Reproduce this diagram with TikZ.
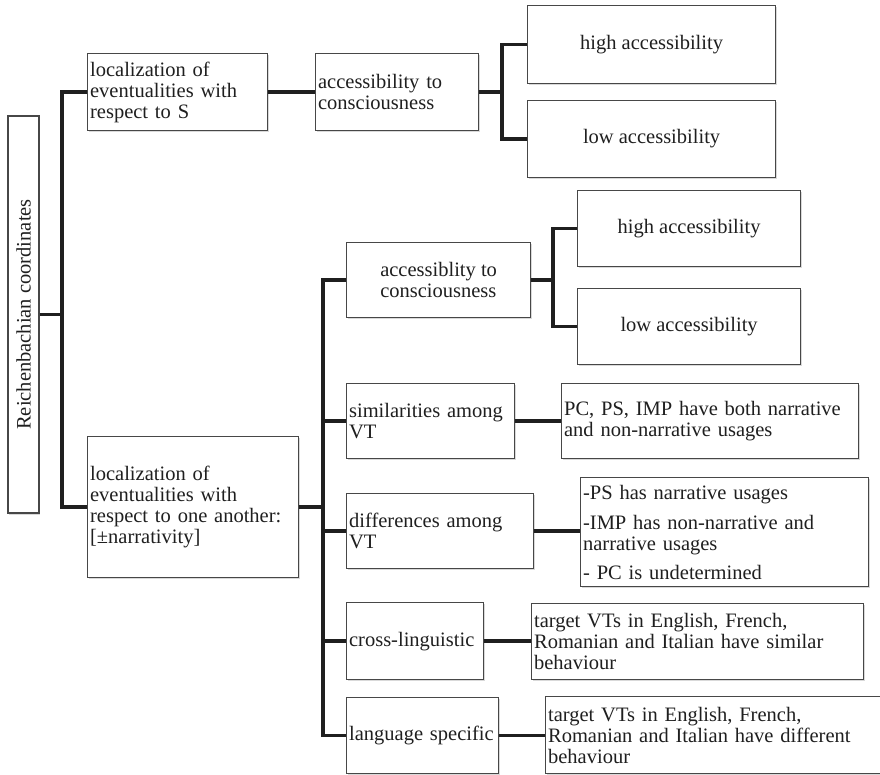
\documentclass[tikz,border=0pt]{standalone}
\usepackage{fontspec}
\setmainfont{Liberation Serif}
\usetikzlibrary{shadows}

\begin{document}
\begin{tikzpicture}[
    x=1pt, y=-1pt,
    box/.style={rectangle, draw=black!72, line width=1.2pt, fill=white, anchor=north west, inner xsep=2.5pt, inner ysep=0pt, text=black!88, font=\fontsize{20.5}{21}\selectfont, drop shadow={shadow xshift=1.2pt, shadow yshift=-1.6pt, opacity=0.3}},
    lbox/.style={box, align=left},
    cbox/.style={box, align=center},
    link/.style={line width=3.3pt, black!88}
]
    \useasboundingbox (0,0) rectangle (880,775);
    \clip (0,0) rectangle (880,775);

    \node[cbox, anchor=center, rotate=90, minimum width=397pt, minimum height=31pt] (root) at (23.5,314.5) {Reichenbachian coordinates};

    \node[lbox, minimum width=180pt, minimum height=77pt, text width=175pt] (locS) at (87,53) {localization of\\ eventualities with\\ respect to S};
    \node[lbox, minimum width=163pt, minimum height=77pt, text width=158pt] (accS) at (315,53) {accessibility to\\ consciousness};
    \node[cbox, minimum width=248pt, minimum height=78pt] (highS) at (527,5) {high accessibility};
    \node[cbox, minimum width=248pt, minimum height=77pt] (lowS) at (527,100) {low accessibility};

    \node[lbox, minimum width=211pt, minimum height=141pt, text width=206pt] (locO) at (87,436) {localization of\\ eventualities with\\ respect to one another:\\ {[±narrativity]}};
    \node[lbox, minimum width=184pt, minimum height=75pt] (accO) at (346,242) {accessiblity to\\ consciousness};
    \node[cbox, minimum width=223pt, minimum height=76pt] (highO) at (577,190) {high accessibility};
    \node[cbox, minimum width=223pt, minimum height=76pt] (lowO) at (577,288) {low accessibility};

    \node[lbox, minimum width=168pt, minimum height=75pt, text width=163pt] (sim) at (346,383) {similarities among\\ VT};
    \node[lbox, minimum width=297pt, minimum height=75pt, text width=292pt] (simtxt) at (561,383) {PC, PS, IMP have both narrative\\ and non-narrative usages};
    \node[lbox, minimum width=187pt, minimum height=75pt, text width=182pt] (diff) at (346,493) {differences among\\ VT};
    \node[lbox, minimum width=288pt, minimum height=109pt, text width=283pt] (difftxt) at (580,477) {-PS has narrative usages\\[9pt] -IMP has non-narrative and\\ narrative usages\\[8pt] - PC is undetermined};
    \node[lbox, minimum width=137pt, minimum height=77pt, text width=132pt] (cross) at (346,602) {cross-linguistic};
    \node[lbox, minimum width=332pt, minimum height=76pt, text width=327pt] (crosstxt) at (531,603) {target VTs in English, French,\\ Romanian and Italian have similar\\ behaviour};
    \node[lbox, minimum width=152pt, minimum height=76pt, text width=147pt] (lang) at (346,697) {language~specific};
    \node[lbox, minimum width=350pt, minimum height=77pt, text width=345pt] (langtxt) at (545,696) {target VTs in English, French,\\ Romanian and Italian have different\\ behaviour};

    \coordinate (bus0) at (62,0);
    \coordinate (bus1) at (502,0);
    \coordinate (bus2) at (323,0);
    \coordinate (bus3) at (553,0);

    \draw[link] (root.south) -- (root.south -| bus0);
    \draw[link] (locS.west) -- (locS.west -| bus0) -- (locO.west -| bus0) -- (locO.west);

    \draw[link] (locS.east) -- (accS.west);
    \draw[link] (accS.east) -- (accS.east -| bus1);
    \draw[link] (highS.west) -- (highS.west -| bus1) -- (lowS.west -| bus1) -- (lowS.west);

    \draw[link] (locO.east) -- (locO.east -| bus2);
    \draw[link] (accO.west) -- (accO.west -| bus2) -- (lang.west -| bus2) -- (lang.west);
    \foreach \n in {sim, diff, cross}
        \draw[link] (\n.west) -- (\n.west -| bus2);

    \draw[link] (accO.east) -- (accO.east -| bus3);
    \draw[link] (highO.west) -- (highO.west -| bus3) -- (lowO.west -| bus3) -- (lowO.west);

    \draw[link] (sim.east) -- (sim.east -| simtxt.west);
    \draw[link] (diff.east) -- (diff.east -| difftxt.west);
    \draw[link] (cross.east) -- (cross.east -| crosstxt.west);
    \draw[link] (lang.east) -- (lang.east -| langtxt.west);
\end{tikzpicture}
\end{document}
